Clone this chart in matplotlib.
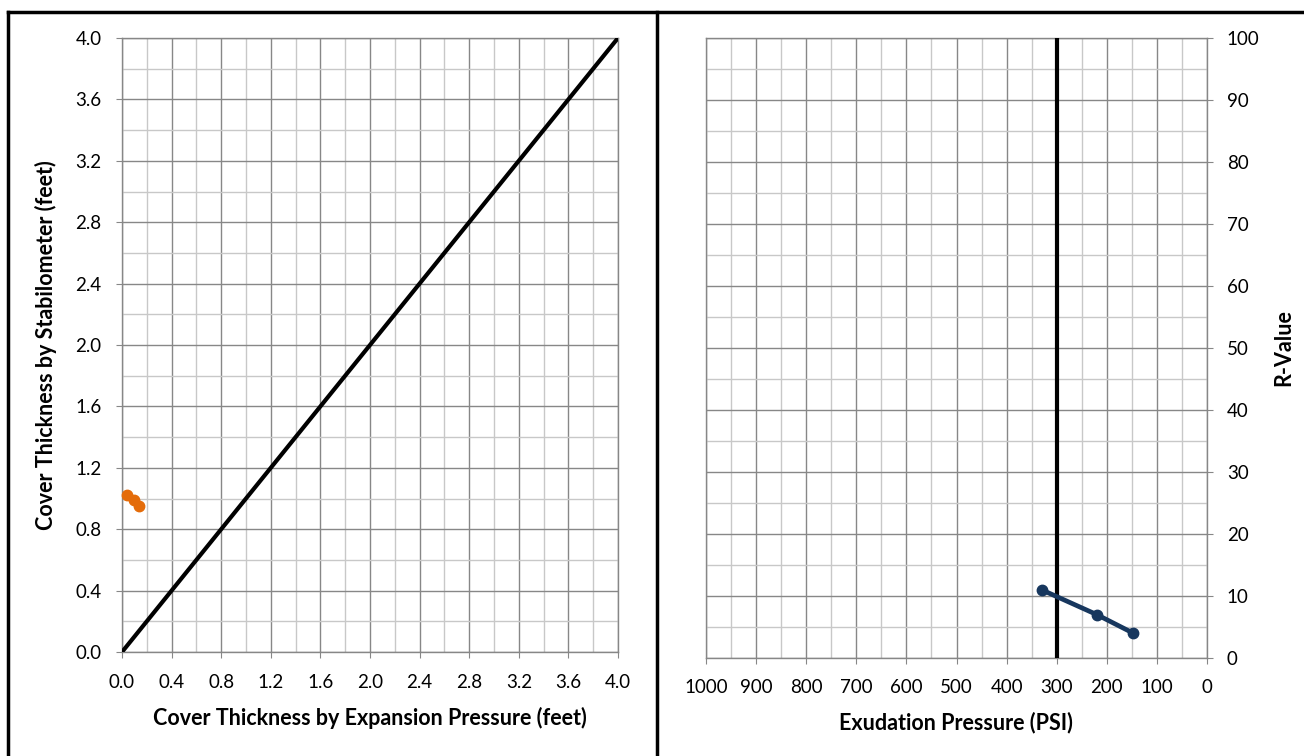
import numpy as np
import matplotlib
matplotlib.use("Agg")
import matplotlib.pyplot as plt
from matplotlib.ticker import MultipleLocator
from matplotlib.lines import Line2D
from matplotlib.transforms import Affine2D

plt.rcParams['font.family'] = ['Lato', 'DejaVu Sans']

# left chart data: cover thickness
exp_thick = [0.04, 0.10, 0.14]
stab_thick = [1.02, 0.99, 0.95]
equal_line = [0.0, 4.0]

# right chart data: R-value vs exudation pressure
exud_psi = [330, 220, 147]
r_value = [11, 7, 4]
ref_psi = [300, 300]
ref_r = [0, 100]

W, H = 1304, 756
fig = plt.figure(figsize=(W / 100, H / 100), dpi=100)
# pixel coords, origin top-left
PX = Affine2D().scale(1.0 / W, -1.0 / H).translate(0, 1) + fig.transFigure

def px_axes(x0, y0, x1, y1):
    return fig.add_axes([x0 / W, 1 - y1 / H, (x1 - x0) / W, (y1 - y0) / H])

MAJ = '#878787'
MIN = '#c8c8c8'
TICK_FS = 13.5
LAB_FS = 15.5

def style(ax):
    ax.grid(which='major', color=MAJ, lw=1.0)
    ax.grid(which='minor', color=MIN, lw=1.0)
    ax.set_axisbelow(True)
    for s in ax.spines.values():
        s.set_color(MAJ)
        s.set_linewidth(1.0)
    ax.tick_params(which='major', direction='out', length=4.3, color=MAJ,
                   labelsize=TICK_FS, labelcolor='black')
    ax.tick_params(which='minor', length=0)

# ---- left panel
ax1 = px_axes(122, 38, 618, 652)
ax1.set_xlim(0, 4)
ax1.set_ylim(0, 4)
ax1.xaxis.set_major_locator(MultipleLocator(0.4))
ax1.xaxis.set_minor_locator(MultipleLocator(0.2))
ax1.yaxis.set_major_locator(MultipleLocator(0.4))
ax1.yaxis.set_minor_locator(MultipleLocator(0.2))
ax1.xaxis.set_major_formatter(lambda v, p: '%.1f' % v)
ax1.yaxis.set_major_formatter(lambda v, p: '%.1f' % v)
style(ax1)
ax1.tick_params(axis='x', pad=11.5)
ax1.tick_params(axis='y', pad=10.5)
ax1.plot(equal_line, equal_line, color='black', lw=3, solid_capstyle='butt', zorder=3)
ax1.plot(exp_thick, stab_thick, 'o', color='#E46C0A', ms=7.5, zorder=4, clip_on=False)
ax1.set_xlabel('Cover Thickness by Expansion Pressure (feet)', fontsize=LAB_FS,
               fontweight='bold', va='baseline')
ax1.xaxis.set_label_coords(370, 725, transform=PX)
ax1.set_ylabel('Cover Thickness by Stabilometer (feet)', fontsize=LAB_FS,
               fontweight='bold', va='baseline')
ax1.yaxis.set_label_coords(53, 345, transform=PX)

# ---- right panel
ax2 = px_axes(706, 38, 1207, 658)
ax2.set_xlim(1000, 0)
ax2.set_ylim(0, 100)
ax2.xaxis.set_major_locator(MultipleLocator(100))
ax2.xaxis.set_minor_locator(MultipleLocator(50))
ax2.yaxis.set_major_locator(MultipleLocator(10))
ax2.yaxis.set_minor_locator(MultipleLocator(5))
ax2.yaxis.tick_right()
ax2.yaxis.set_label_position('right')
style(ax2)
ax2.tick_params(axis='x', pad=11)
ax2.tick_params(axis='y', pad=10)
ax2.plot(ref_psi, ref_r, color='black', lw=3, solid_capstyle='butt', zorder=3)
ax2.plot(exud_psi, r_value, '-o', color='#17375E', lw=3.4, ms=7.5, zorder=4)
ax2.set_xlabel('Exudation Pressure (PSI)', fontsize=LAB_FS, fontweight='bold', va='baseline')
ax2.xaxis.set_label_coords(956, 729, transform=PX)
ax2.set_ylabel('R-Value', fontsize=LAB_FS, fontweight='bold', va='baseline')
ax2.yaxis.set_label_coords(1290, 348, transform=PX)

# ---- panel borders
def fline(xs, ys):
    fig.add_artist(Line2D(xs, ys, color='black', lw=2.5, transform=PX))

fline([8.3, W], [11.5, 11.5])
fline([8.3, 8.3], [11.5, H])
fline([657, 657], [11.5, H])

fig.savefig('out.png', dpi=100)
